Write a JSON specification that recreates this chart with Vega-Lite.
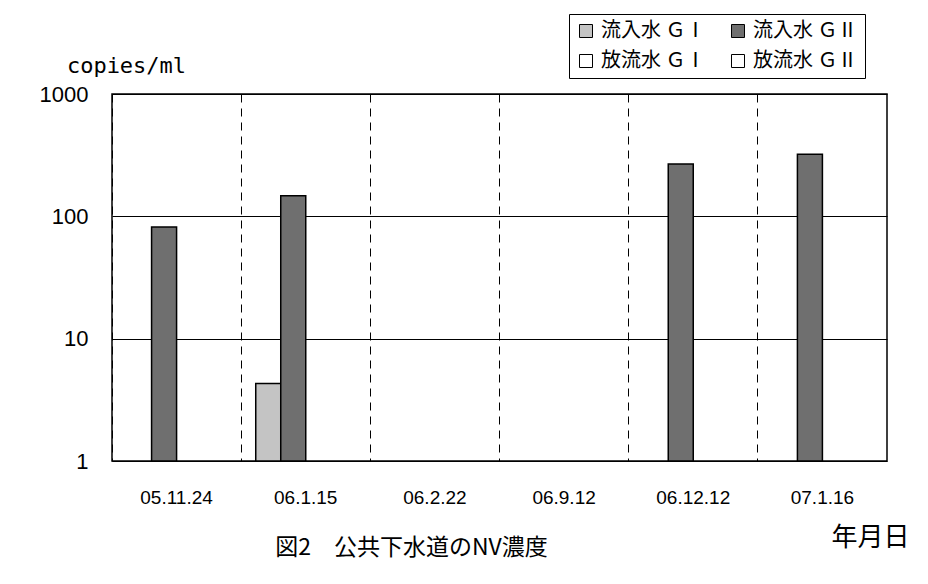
{
  "$schema": "https://vega.github.io/schema/vega-lite/v6.json",
  "autosize": "none",
  "width": 775,
  "height": 367,
  "padding": {"left": 112, "top": 94, "right": 41, "bottom": 123},
  "background": "white",
  "title": {
    "text": "図2　公共下水道のNV濃度",
    "orient": "bottom",
    "frame": "group",
    "anchor": "middle",
    "dx": -88,
    "offset": -13,
    "baseline": "top",
    "font": "Noto Sans CJK JP",
    "fontSize": 23,
    "fontWeight": "normal",
    "color": "black"
  },
  "config": {
    "view": {"stroke": "black", "strokeWidth": 1.5},
    "axis": {"labelColor": "black", "titleColor": "black"}
  },
  "data": {
    "values": [
      {"date": "05.11.24", "series": "流入水 ＧⅠ", "copies": null},
      {"date": "05.11.24", "series": "流入水 ＧⅡ", "copies": 82},
      {"date": "05.11.24", "series": "放流水 ＧⅠ", "copies": null},
      {"date": "05.11.24", "series": "放流水 ＧⅡ", "copies": null},
      {"date": "06.1.15", "series": "流入水 ＧⅠ", "copies": 4.3},
      {"date": "06.1.15", "series": "流入水 ＧⅡ", "copies": 147},
      {"date": "06.1.15", "series": "放流水 ＧⅠ", "copies": null},
      {"date": "06.1.15", "series": "放流水 ＧⅡ", "copies": null},
      {"date": "06.2.22", "series": "流入水 ＧⅠ", "copies": null},
      {"date": "06.2.22", "series": "流入水 ＧⅡ", "copies": null},
      {"date": "06.2.22", "series": "放流水 ＧⅠ", "copies": null},
      {"date": "06.2.22", "series": "放流水 ＧⅡ", "copies": null},
      {"date": "06.9.12", "series": "流入水 ＧⅠ", "copies": null},
      {"date": "06.9.12", "series": "流入水 ＧⅡ", "copies": null},
      {"date": "06.9.12", "series": "放流水 ＧⅠ", "copies": null},
      {"date": "06.9.12", "series": "放流水 ＧⅡ", "copies": null},
      {"date": "06.12.12", "series": "流入水 ＧⅠ", "copies": null},
      {"date": "06.12.12", "series": "流入水 ＧⅡ", "copies": 268},
      {"date": "06.12.12", "series": "放流水 ＧⅠ", "copies": null},
      {"date": "06.12.12", "series": "放流水 ＧⅡ", "copies": null},
      {"date": "07.1.16", "series": "流入水 ＧⅠ", "copies": null},
      {"date": "07.1.16", "series": "流入水 ＧⅡ", "copies": 322},
      {"date": "07.1.16", "series": "放流水 ＧⅠ", "copies": null},
      {"date": "07.1.16", "series": "放流水 ＧⅡ", "copies": null}
    ]
  },
  "mark": {"type": "bar", "stroke": "black", "strokeWidth": 1.5},
  "encoding": {
    "x": {
      "field": "date",
      "type": "nominal",
      "sort": null,
      "scale": {
        "domain": ["05.11.24", "06.1.15", "06.2.22", "06.9.12", "06.12.12", "07.1.16"],
        "paddingInner": 0,
        "paddingOuter": 0
      },
      "axis": {
        "title": "年月日",
        "titleX": 758,
        "titleY": 84,
        "titleAlign": "center",
        "titleBaseline": "alphabetic",
        "titleFont": "Noto Sans CJK JP",
        "titleFontSize": 26,
        "titleFontWeight": "normal",
        "labelAngle": 0,
        "labelFont": "Liberation Sans",
        "labelFontSize": 19,
        "labelPadding": 27,
        "ticks": false,
        "domain": false,
        "grid": true,
        "bandPosition": 0,
        "gridColor": "black",
        "gridDash": [8, 6],
        "gridWidth": 1,
        "gridOpacity": 1
      }
    },
    "xOffset": {
      "field": "series",
      "type": "nominal",
      "sort": null,
      "scale": {"domain": ["流入水 ＧⅠ", "流入水 ＧⅡ", "放流水 ＧⅠ", "放流水 ＧⅡ"], "paddingInner": 0, "paddingOuter": 0.583}
    },
    "y": {
      "field": "copies",
      "type": "quantitative",
      "scale": {"type": "log", "domain": [1, 1000], "nice": false},
      "axis": {
        "values": [1, 10, 100, 1000],
        "format": "d",
        "title": "copies/ml",
        "titleAngle": 0,
        "titleX": 14,
        "titleY": -22,
        "titleAlign": "center",
        "titleBaseline": "alphabetic",
        "titleFont": "DejaVu Sans Mono",
        "titleFontSize": 22,
        "titleFontWeight": "normal",
        "labelFont": "Liberation Sans",
        "labelFontSize": 22,
        "labelPadding": 24,
        "ticks": false,
        "domain": false,
        "grid": true,
        "gridColor": "black",
        "gridWidth": 1.2,
        "gridOpacity": 1
      }
    },
    "y2": {"datum": 1},
    "fill": {
      "field": "series",
      "type": "nominal",
      "sort": null,
      "scale": {
        "domain": ["流入水 ＧⅠ", "流入水 ＧⅡ", "放流水 ＧⅠ", "放流水 ＧⅡ"],
        "range": ["#c4c4c4", "#6f6f6f", "#ffffff", "#ffffff"]
      },
      "legend": {
        "title": null,
        "orient": "none",
        "legendX": 457,
        "legendY": -80,
        "columns": 2,
        "direction": "horizontal",
        "symbolType": "square",
        "symbolSize": 169,
        "symbolStrokeColor": "black",
        "symbolStrokeWidth": 1,
        "symbolOpacity": 1,
        "labelFont": "Noto Sans CJK JP",
        "labelFontSize": 20,
        "labelColor": "black",
        "labelOffset": 5,
        "labelLimit": 200,
        "columnPadding": 22,
        "rowPadding": 10,
        "padding": 7,
        "strokeColor": "black",
        "fillColor": "white"
      }
    }
  }
}
